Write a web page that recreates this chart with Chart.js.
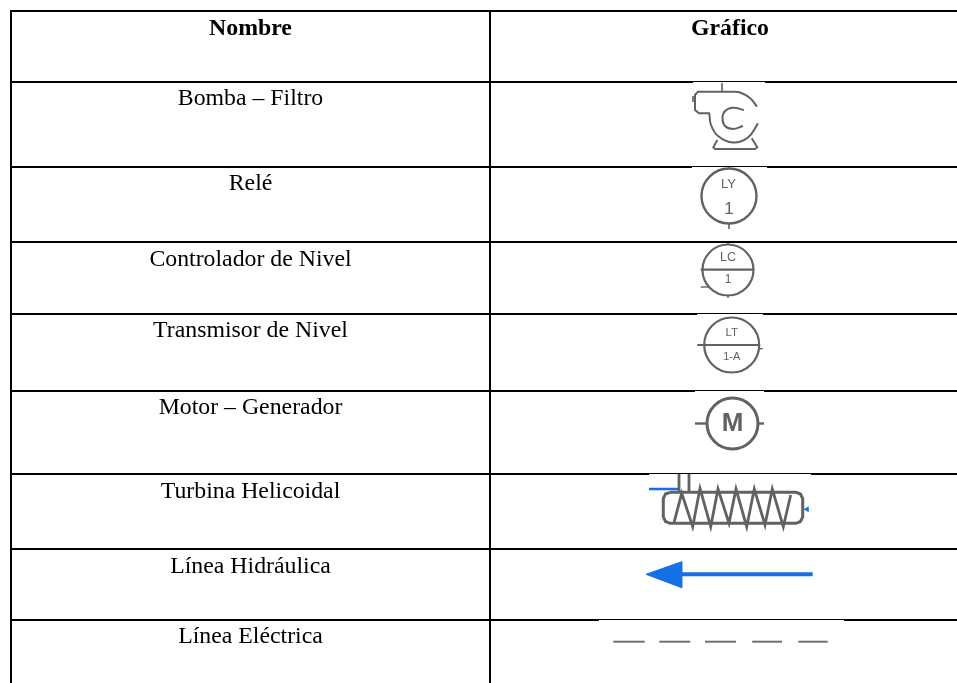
<!DOCTYPE html>
<html lang="es">
<head>
	<meta charset="UTF-8"/>
	<title>Nombre - Gráfico</title>
	<script src="https://cdn.jsdelivr.net/npm/chart.js"></script>
	<style>
		html, body {
			margin: 0;
			padding: 0;
			background: white;
			overflow: hidden;
		}
		canvas {
			display: block;
		}
	</style>
</head>
<body>
<canvas id="myChart" width="957" height="683"></canvas>

<script>
	// table text
	const headers = ["Nombre", "Gráfico"];
	const headerX = [250.5, 730];
	const headerY = [35, 35];
	const rowNames = [
		"Bomba – Filtro",
		"Relé",
		"Controlador de Nivel",
		"Transmisor de Nivel",
		"Motor – Generador",
		"Turbina Helicoidal",
		"Línea Hidráulica",
		"Línea Eléctrica"
	];
	const rowNameX = 250.5;
	const rowNameY = [105, 189.5, 266, 337, 414, 498, 573, 643];

	// table rules
	const ruleY = [11, 82, 167, 242, 314, 391, 474, 549, 620];
	const ruleThinFrom = [null, 693, 692, null, 697, 695, 649, null, 599];
	const ruleThinTo = [null, 765, 767, null, 763, 764, 811, null, 844];
	const columnX = [11, 490];

	// text inside the symbols
	const symbolTexts = ["LY", "1", "LC", "1", "LT", "1-A", "M"];
	const symbolTextX = [728.5, 729, 728, 728, 731.7, 731.7, 732.5];
	const symbolTextY = [184, 209.5, 257.5, 280, 332.5, 357, 424];
	const symbolTextSize = [13, 17, 12.5, 12, 11.5, 11, 26];
	const symbolTextWeight = ["normal", "normal", "normal", "normal", "normal", "normal", "bold"];

	// circles: relay, level controller, level transmitter, motor
	const circleX = [729, 728, 731.7, 732.5];
	const circleY = [196, 270, 345, 423.5];
	const circleRadius = [27.5, 25.5, 27.5, 25.5];

	// pump
	const pumpStem = [[722, 83], [722, 92]];
	const pumpInlet = [[693, 96], [693, 102]];
	const pumpVolute = [[710, 113.3], [699, 113.3], [695, 110], [695, 95], [698, 91.7], [732, 91.7]];
	const pumpCurve = [[732, 91.7], [740, 92.5], [750, 98], [757, 106.7]];
	const pumpBody = [[709.3, 113.3], [711, 125], [718, 136], [733, 142.5], [748, 137.5], [758, 123.3]];
	const pumpInner = [[744, 110], [733, 107.7], [725, 111], [722.5, 118.3], [725, 126], [733, 129], [743, 126]];
	const pumpBase = [[717.3, 140], [713.3, 147.3], [715, 149], [755, 149], [757.3, 147.3], [751.7, 138.3]];

	// instrument ticks
	const relayTicks = [[[729, 167], [729, 169]], [[729, 224], [729, 229]]];
	const controllerBar = [[700.7, 269.7], [753.5, 269.7]];
	const controllerTicks = [[[700.7, 287], [710, 287]], [[728, 243], [728, 245]], [[728, 295], [728, 298]]];
	const transmitterBar = [[697.3, 345], [759.3, 345]];
	const transmitterTick = [[759.3, 348.7], [762.7, 348.7]];
	const motorLeads = [[[695, 423.5], [707, 423.5]], [[758, 423.5], [764, 423.5]]];

	// helical turbine
	const turbineBox = [
		[670, 492.3], [796, 492.3], [800.5, 494], [802.7, 498.5], [802.7, 517], [800.5, 521.5], [796, 523.3],
		[670, 523.3], [665.5, 521.5], [663.3, 517], [663.3, 498.5], [665.5, 494], [670, 492.3]
	];
	const turbineCoil = [
		[674, 522.7], [681.7, 493.3], [692.7, 526.7], [700, 488.3], [710.7, 526.7], [718, 489], [729, 523.3],
		[736, 489], [746.7, 526.7], [754.3, 489], [765, 525], [772.3, 489], [783.3, 526.7], [790.7, 495]
	];
	const turbinePipes = [[[679, 474], [679, 493]], [[689, 474], [689, 493]]];
	const turbineInlet = [[649, 489], [678, 489]];
	const turbineOutlet = [[807, 509.3]];

	// hydraulic line
	const arrowShaft = [[681, 574.3], [812.7, 574.3]];
	const arrowHead = [[646, 574.3], [681.7, 561.7], [681.7, 587.7], [646, 574.3]];

	// electric line
	const dashes = [
		[[613.3, 641.7], [644.7, 641.7]],
		[[659.3, 641.7], [690.3, 641.7]],
		[[705, 641.7], [736, 641.7]],
		[[752.3, 641.7], [782, 641.7]],
		[[798.3, 641.7], [827.7, 641.7]]
	];

	const BLACK = "#000000";
	const GREY = "#626262";
	const BLUE = "#1570e6";

	const datasets = [];

	function addLine(points, color, width, extra) {
		datasets.push(Object.assign({
			data: points.map(p => ({ x: p[0], y: p[1] })),
			showLine: true,
			borderColor: color,
			borderWidth: width,
			pointRadius: 0,
			fill: false
		}, extra || {}));
	}

	// rules get thinner where the pasted symbol image covers them
	ruleY.forEach((y, i) => {
		if (ruleThinFrom[i] === null) {
			addLine([[10, y], [957, y]], BLACK, 2);
		} else {
			addLine([[10, y], [ruleThinFrom[i], y]], BLACK, 2);
			addLine([[ruleThinFrom[i], y - 0.5], [ruleThinTo[i], y - 0.5]], BLACK, 1);
			addLine([[ruleThinTo[i], y], [957, y]], BLACK, 2);
		}
	});
	columnX.forEach(x => addLine([[x, 10], [x, 683]], BLACK, 2));

	addLine(pumpStem, GREY, 1.6);
	addLine(pumpInlet, GREY, 1.6);
	addLine(pumpVolute, GREY, 2);
	addLine(pumpCurve, GREY, 2, { tension: 0.4 });
	addLine(pumpBody, GREY, 2, { tension: 0.4 });
	addLine(pumpInner, GREY, 2, { tension: 0.4 });
	addLine(pumpBase, GREY, 2);

	relayTicks.forEach(t => addLine(t, GREY, 1.6));
	controllerTicks.forEach(t => addLine(t, GREY, 1.4));
	addLine(controllerBar, GREY, 2.2);
	addLine(transmitterBar, GREY, 1.8);
	addLine(transmitterTick, GREY, 1.4);
	motorLeads.forEach(t => addLine(t, GREY, 2.4));

	datasets.push({
		data: circleX.map((x, i) => ({ x: x, y: circleY[i] })),
		showLine: false,
		pointStyle: "circle",
		pointRadius: circleRadius,
		pointBackgroundColor: "transparent",
		pointBorderColor: GREY,
		pointBorderWidth: [2.4, 2.2, 2.2, 3]
	});

	addLine(turbineBox, GREY, 3);
	addLine(turbineCoil, GREY, 2.8);
	turbinePipes.forEach(t => addLine(t, GREY, 2.8));
	addLine(turbineInlet, BLUE, 2.5);
	addLine(turbineOutlet, BLUE, 0, {
		showLine: false,
		pointStyle: "triangle",
		pointRadius: 3.5,
		rotation: -90,
		pointBackgroundColor: BLUE,
		pointBorderWidth: 0
	});

	addLine(arrowShaft, BLUE, 4);
	addLine(arrowHead, BLUE, 1, { fill: "shape", backgroundColor: BLUE });

	dashes.forEach(d => addLine(d, "#707070", 2));

	// Chart.js has no text marks, so the table text goes through the same scales
	const tableText = {
		id: "tableText",
		afterDatasetsDraw(chart) {
			const { ctx, scales } = chart;
			ctx.save();
			ctx.textAlign = "center";

			ctx.fillStyle = BLACK;
			ctx.textBaseline = "alphabetic";
			ctx.font = "bold 23.8px 'Liberation Serif'";
			headers.forEach((h, i) => {
				ctx.fillText(h, scales.x.getPixelForValue(headerX[i]), scales.y.getPixelForValue(headerY[i]));
			});
			ctx.font = "23.8px 'Liberation Serif'";
			rowNames.forEach((name, i) => {
				ctx.fillText(name, scales.x.getPixelForValue(rowNameX), scales.y.getPixelForValue(rowNameY[i]));
			});

			ctx.fillStyle = GREY;
			ctx.textBaseline = "middle";
			symbolTexts.forEach((t, i) => {
				ctx.font = symbolTextWeight[i] + " " + symbolTextSize[i] + "px 'Liberation Sans'";
				ctx.fillText(t, scales.x.getPixelForValue(symbolTextX[i]), scales.y.getPixelForValue(symbolTextY[i]));
			});
			ctx.restore();
		}
	};

	const myChart = new Chart(document.getElementById("myChart").getContext("2d"), {
		type: "scatter",
		data: { datasets: datasets },
		plugins: [tableText],
		options: {
			responsive: false,
			animation: false,
			layout: { padding: 0, autoPadding: false },
			plugins: {
				legend: { display: false },
				tooltip: { enabled: false }
			},
			scales: {
				x: { type: "linear", display: false, min: 0, max: 957 },
				y: { type: "linear", display: false, min: 0, max: 683, reverse: true }
			}
		}
	});
</script>
</body>
</html>
